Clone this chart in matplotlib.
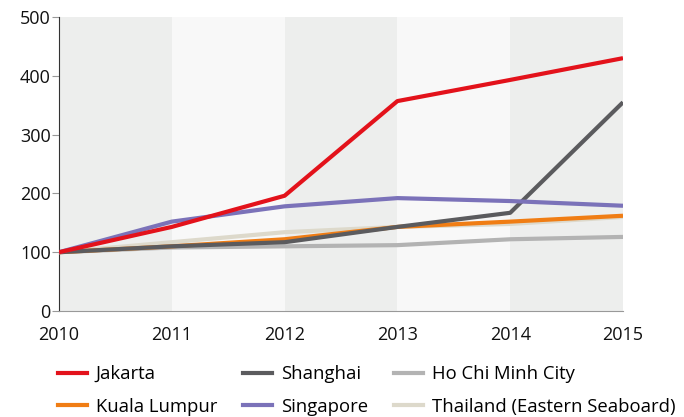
import matplotlib
matplotlib.use("Agg")
import matplotlib.pyplot as plt
from matplotlib.lines import Line2D

years = [2010, 2011, 2012, 2013, 2014, 2015]
jakarta = [100, 143, 196, 357, 393, 430]
shanghai = [100, 110, 117, 143, 167, 355]
hcmc = [100, 108, 110, 112, 122, 126]
kuala_lumpur = [100, 110, 122, 143, 152, 162]
singapore = [100, 152, 178, 192, 187, 179]
thailand = [100, 117, 134, 143, 148, 160]

series = [
    ("Ho Chi Minh City", hcmc, "#b3b3b3"),
    ("Thailand (Eastern Seaboard)", thailand, "#ddd9cb"),
    ("Kuala Lumpur", kuala_lumpur, "#f07d14"),
    ("Shanghai", shanghai, "#5b5b5e"),
    ("Singapore", singapore, "#7b72b9"),
    ("Jakarta", jakarta, "#e3121b"),
]

plt.rcParams['font.family'] = ['Open Sans', 'DejaVu Sans']

fig = plt.figure(figsize=(6.84, 4.17), dpi=100)
ax = fig.add_axes([59/684, 1-311/417, (623-59)/684, (311-17)/417])

band_colors = ["#edeeed", "#f8f8f8"]
for i in range(len(years) - 1):
    ax.axvspan(years[i], years[i+1], color=band_colors[i % 2], lw=0, zorder=0)

for name, vals, col in series:
    ax.plot(years, vals, color=col, lw=3.0, solid_capstyle='butt', zorder=3)

ax.set_xlim(2010, 2015)
ax.set_ylim(0, 500)
ax.set_xticks(years)
ax.set_xticklabels([str(y) for y in years])
ax.set_yticks([0, 100, 200, 300, 400, 500])
for s in ["top", "right"]:
    ax.spines[s].set_visible(False)
ax.spines["left"].set_color("#333333")
ax.spines["bottom"].set_color("#999999")
ax.tick_params(axis='y', length=5, color="#999999", labelsize=13, pad=1)
ax.tick_params(axis='x', length=0, labelsize=13, pad=11)
for lab in ax.get_xticklabels() + ax.get_yticklabels():
    lab.set_fontweight('medium')
    lab.set_color("#111111")

order = ["Jakarta", "Kuala Lumpur", "Shanghai", "Singapore", "Ho Chi Minh City", "Thailand (Eastern Seaboard)"]
lookup = {n: c for n, v, c in series}
handles = [Line2D([0], [0], color=lookup[n], lw=3) for n in order]
fig.legend(handles, order, ncol=3, frameon=False, loc="upper left",
           bbox_to_anchor=(58/684, 1-365/417), fontsize=13.3, handlelength=1.55,
           handletextpad=0.5, columnspacing=1.4, labelspacing=0.8,
           borderpad=0, borderaxespad=0)

fig.savefig("out.png", dpi=100)
